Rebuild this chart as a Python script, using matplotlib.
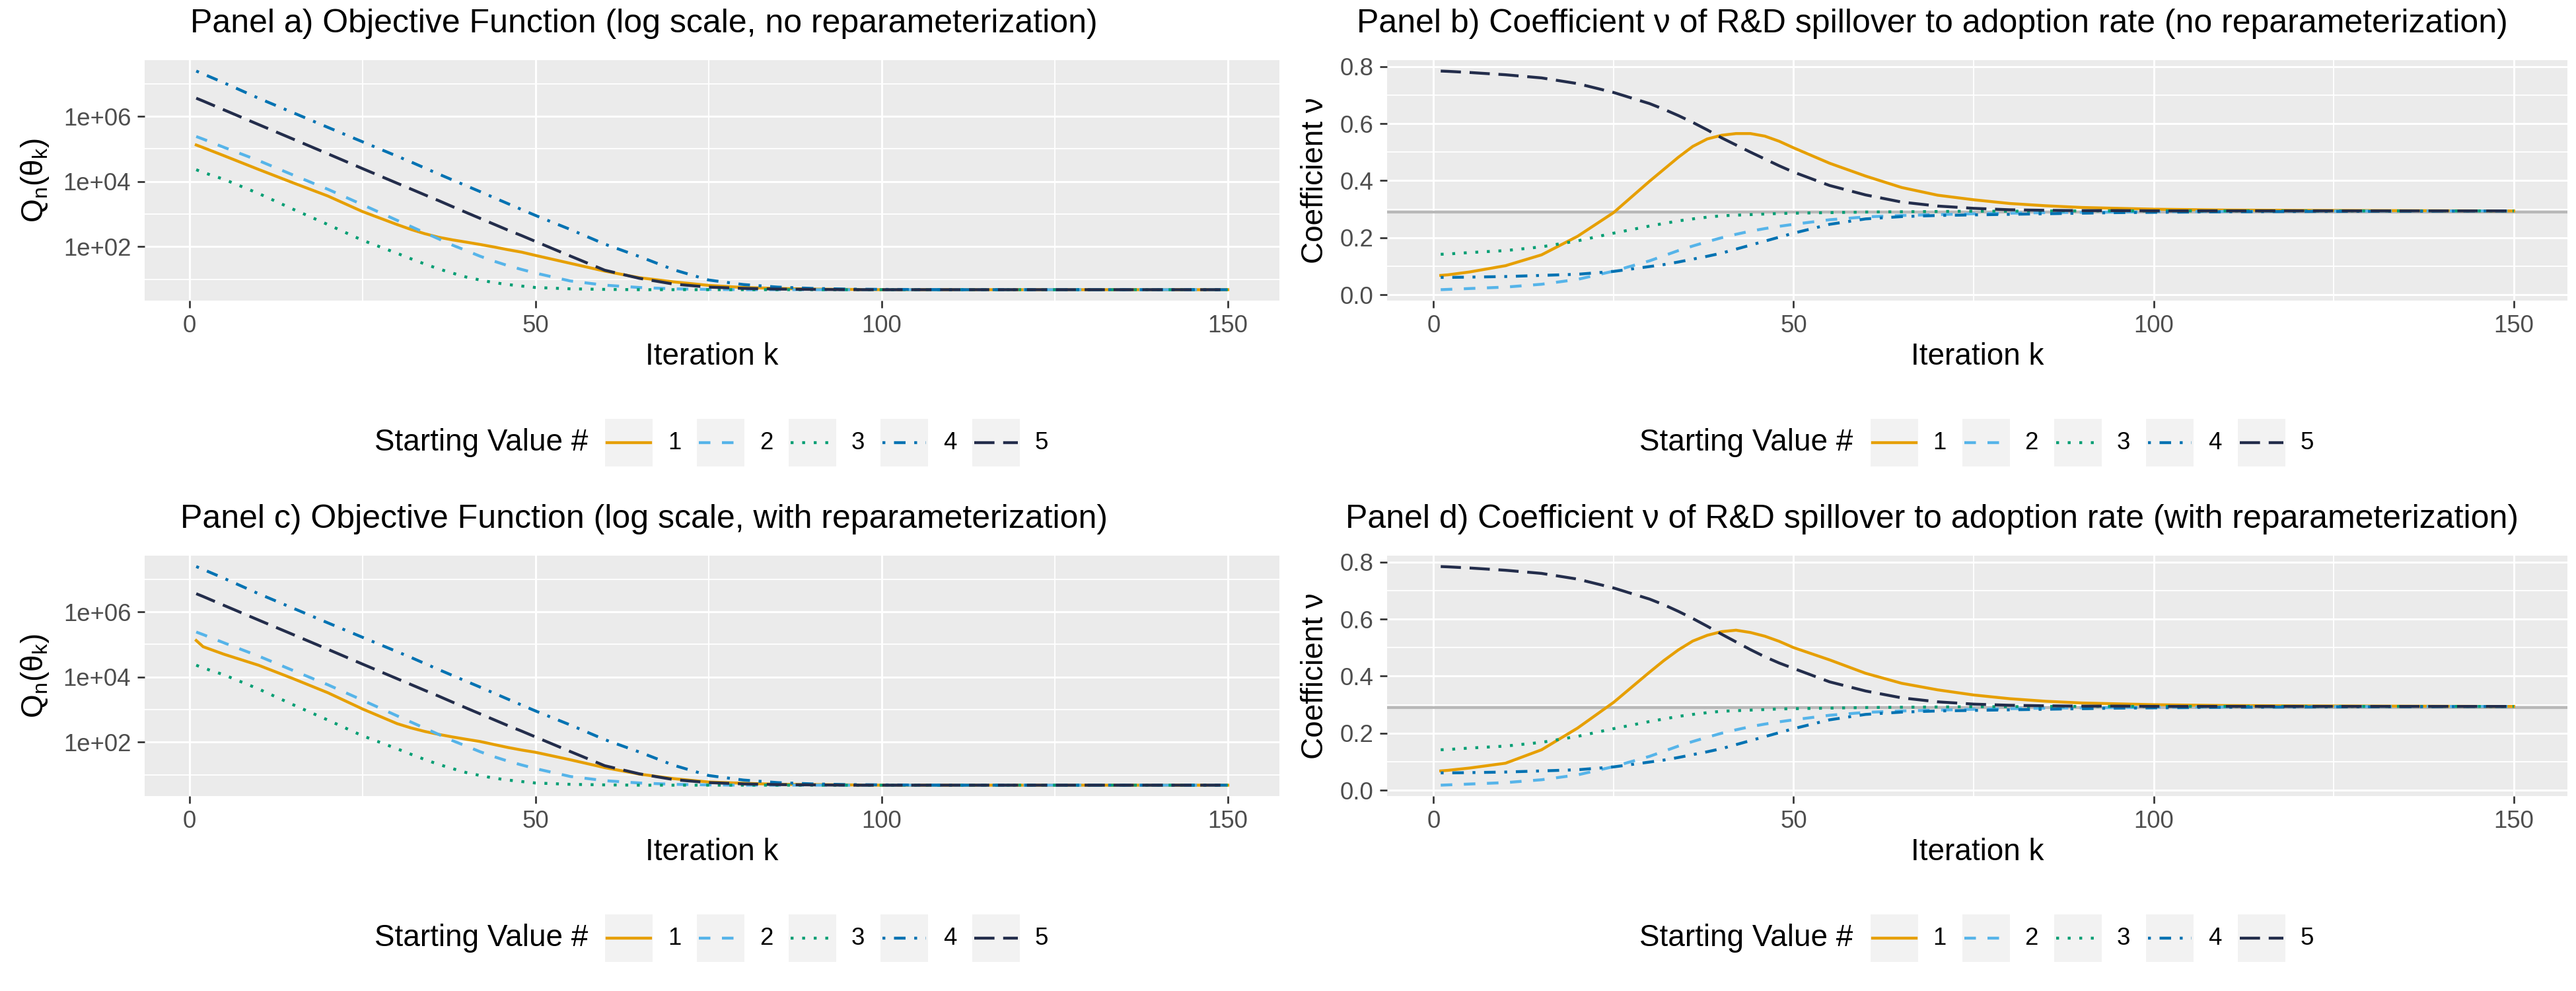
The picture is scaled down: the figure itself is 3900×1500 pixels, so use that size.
import matplotlib
matplotlib.use('Agg')
import matplotlib.pyplot as plt
from matplotlib.lines import Line2D
from matplotlib.patches import Rectangle
from matplotlib.ticker import FixedLocator, NullFormatter

plt.rcParams['font.family'] = ['Liberation Sans', 'DejaVu Sans']
plt.rcParams['mathtext.fontset'] = 'custom'
plt.rcParams['mathtext.rm'] = 'Liberation Sans'
plt.rcParams['mathtext.it'] = 'Liberation Sans:italic'

iters = [1, 2, 5, 10, 15, 20, 25, 30, 32, 34, 36, 38, 40, 42, 44, 46, 48, 50,
         55, 60, 65, 70, 75, 80, 85, 90, 95, 100, 110, 120, 135, 150]

# Panel a: objective function, no reparameterization
obj_a_1 = [1.32e5, 1.1e5, 6.2e4, 2.35e4, 9.1e3, 3.6e3, 1.2e3,
           479, 339, 251, 195, 162, 138, 117, 98, 81, 68, 54,
           31, 17.8, 11.2, 8.3, 6.5, 5.6, 5.25, 5.0, 4.9, 4.8, 4.8, 4.8, 4.8, 4.8]
obj_a_2 = [2.4e5, 2.0e5, 1.12e5, 4.4e4, 1.58e4, 5.8e3, 1.95e3,
           645, 417, 269, 174, 112, 76, 51, 36, 26.3, 20, 15.5,
           8.9, 6.6, 5.6, 5.1, 4.9, 4.8, 4.8, 4.8, 4.8, 4.8, 4.8, 4.8, 4.8, 4.8]
obj_a_3 = [2.3e4, 1.9e4, 1.17e4, 4.3e3, 1.41e3, 480, 158,
           63, 42.7, 29.5, 20.9, 15.5, 11.7, 9.5, 7.9, 6.9, 6.2, 5.6,
           5.1, 4.9, 4.8, 4.8, 4.8, 4.8, 4.8, 4.8, 4.8, 4.8, 4.8, 4.8, 4.8, 4.8]
obj_a_4 = [2.45e7, 2.0e7, 1.07e7, 3.6e6, 1.29e6, 4.6e5, 1.66e5,
           6.0e4, 4.0e4, 2.6e4, 1.7e4, 1.12e4, 7.4e3, 4.9e3, 3.2e3, 2.1e3, 1.38e3, 910,
           340, 120, 50, 19.5, 9.5, 6.9, 5.75, 5.25, 5.0, 4.9, 4.8, 4.8, 4.8, 4.8]
obj_a_5 = [3.6e6, 2.95e6, 1.58e6, 5.6e5, 2.0e5, 7.1e4, 2.5e4,
           8.9e3, 5.9e3, 3.9e3, 2.6e3, 1.7e3, 1.12e3, 741, 490, 324, 219, 145,
           52, 19, 10.7, 7.1, 5.75, 5.25, 5.0, 4.9, 4.8, 4.8, 4.8, 4.8, 4.8, 4.8]

# Panel c: objective function, with reparameterization (series 2-5 as in panel a)
obj_c_1 = [1.32e5, 8.5e4, 5.0e4, 2.3e4, 8.9e3, 3.3e3, 1.05e3,
           372, 275, 214, 174, 145, 123, 105, 85, 69, 57.5, 49,
           29, 16.6, 10.5, 7.6, 6.0, 5.5, 5.1, 5.0, 4.9, 4.8, 4.8, 4.8, 4.8, 4.8]
obj_c_2 = obj_a_2
obj_c_3 = obj_a_3
obj_c_4 = obj_a_4
obj_c_5 = obj_a_5

# Panel b: coefficient nu, no reparameterization
nu_b_1 = [0.068, 0.070, 0.080, 0.102, 0.140, 0.205, 0.288,
          0.398, 0.440, 0.482, 0.520, 0.546, 0.559, 0.565, 0.565, 0.556, 0.538, 0.515,
          0.461, 0.416, 0.376, 0.349, 0.333, 0.320, 0.312, 0.306, 0.303, 0.300, 0.297,
          0.296, 0.295, 0.294]
nu_b_2 = [0.018, 0.019, 0.022, 0.027, 0.037, 0.054, 0.083,
          0.119, 0.137, 0.155, 0.171, 0.186, 0.200, 0.212, 0.223, 0.232, 0.240, 0.247,
          0.263, 0.273, 0.278, 0.281, 0.284, 0.286, 0.288, 0.289, 0.290, 0.291, 0.292,
          0.293, 0.294, 0.294]
nu_b_3 = [0.142, 0.143, 0.148, 0.155, 0.168, 0.189, 0.216,
          0.241, 0.250, 0.259, 0.266, 0.272, 0.277, 0.279, 0.281, 0.283, 0.285, 0.286,
          0.288, 0.290, 0.291, 0.292, 0.293, 0.293, 0.294, 0.294, 0.294, 0.294, 0.294,
          0.294, 0.294, 0.294]
nu_b_4 = [0.061, 0.061, 0.062, 0.064, 0.068, 0.072, 0.082,
          0.099, 0.106, 0.115, 0.125, 0.135, 0.146, 0.160, 0.174, 0.188, 0.202, 0.216,
          0.247, 0.266, 0.274, 0.278, 0.280, 0.282, 0.284, 0.286, 0.288, 0.289, 0.291,
          0.292, 0.293, 0.294]
nu_b_5 = [0.784, 0.783, 0.779, 0.771, 0.760, 0.740, 0.709,
          0.670, 0.650, 0.628, 0.604, 0.578, 0.550, 0.525, 0.500, 0.476, 0.452, 0.430,
          0.383, 0.350, 0.325, 0.311, 0.303, 0.298, 0.296, 0.295, 0.295, 0.294, 0.294,
          0.294, 0.294, 0.294]

# Panel d: coefficient nu, with reparameterization (series 2-4 as in panel b)
nu_d_1 = [0.068, 0.070, 0.078, 0.095, 0.142, 0.218, 0.308,
          0.414, 0.455, 0.492, 0.523, 0.543, 0.556, 0.561, 0.553, 0.540, 0.522, 0.500,
          0.457, 0.410, 0.375, 0.352, 0.334, 0.321, 0.312, 0.306, 0.303, 0.300, 0.297,
          0.296, 0.295, 0.294]
nu_d_2 = nu_b_2
nu_d_3 = nu_b_3
nu_d_4 = nu_b_4
nu_d_5 = [0.784, 0.783, 0.779, 0.771, 0.760, 0.740, 0.709,
          0.670, 0.650, 0.627, 0.602, 0.575, 0.547, 0.520, 0.493, 0.468, 0.446, 0.427,
          0.380, 0.348, 0.324, 0.310, 0.302, 0.298, 0.296, 0.295, 0.295, 0.294, 0.294,
          0.294, 0.294, 0.294]

true_nu = 0.29

labels = ['1', '2', '3', '4', '5']
colors = ['#E69F00', '#56B4E9', '#009E73', '#0072B2', '#232D4B']
linestyles = ['-', (0, (4, 4)), (0, (1, 3)), (0, (1, 3, 4, 3)), (0, (7, 3))]
LW = 1.05

W, H = 3900, 1500


def fx(px):
    return px / W


def fy(py):
    return 1 - py / H


def style_axes(ax):
    ax.set_facecolor('#EBEBEB')
    for s in ax.spines.values():
        s.set_visible(False)
    ax.set_axisbelow(True)
    ax.grid(which='major', color='white', lw=0.7)
    ax.grid(which='minor', color='white', lw=0.45)
    ax.tick_params(which='major', length=2.75, width=0.65, color='#333333',
                   labelsize=8.8, labelcolor='#4D4D4D', pad=2.2)
    ax.tick_params(which='minor', length=0)
    ax.xaxis.set_major_locator(FixedLocator([0, 50, 100, 150]))
    ax.xaxis.set_minor_locator(FixedLocator([25, 75, 125]))
    ax.xaxis.set_minor_formatter(NullFormatter())


def draw_legend(fig, cx, cy):
    key = 72
    fig.text(fx(cx - 188), fy(cy), 'Starting Value #', ha='right', va='center', size=11)
    for i in range(5):
        left = cx - 162 + i * 139
        fig.add_artist(Rectangle((fx(left), fy(cy + key / 2)), key / W, key / H,
                                 transform=fig.transFigure, facecolor='#F2F2F2',
                                 edgecolor='none'))
        fig.add_artist(Line2D([fx(left + 3), fx(left + key - 3)], [fy(cy), fy(cy)],
                              transform=fig.transFigure, color=colors[i],
                              linestyle=linestyles[i], lw=LW, dash_capstyle='butt'))
        fig.text(fx(left + key + 23), fy(cy), labels[i], ha='left', va='center', size=8.8)


fig = plt.figure(figsize=(13, 5), dpi=300)

panels = [
    dict(box=(219, 91, 1937, 455), cell=975, ty=36,
         title='Panel a) Objective Function (log scale, no reparameterization)',
         series=[obj_a_1, obj_a_2, obj_a_3, obj_a_4, obj_a_5], log=True),
    dict(box=(2100, 91, 3887, 455), cell=2925, ty=36,
         title='Panel b) Coefficient ν of R&D spillover to adoption rate (no reparameterization)',
         series=[nu_b_1, nu_b_2, nu_b_3, nu_b_4, nu_b_5], log=False),
    dict(box=(219, 841, 1937, 1205), cell=975, ty=786,
         title='Panel c) Objective Function (log scale, with reparameterization)',
         series=[obj_c_1, obj_c_2, obj_c_3, obj_c_4, obj_c_5], log=True),
    dict(box=(2100, 841, 3887, 1205), cell=2925, ty=786,
         title='Panel d) Coefficient ν of R&D spillover to adoption rate (with reparameterization)',
         series=[nu_d_1, nu_d_2, nu_d_3, nu_d_4, nu_d_5], log=False),
]

for p in panels:
    l, t, r, b = p['box']
    ax = fig.add_axes([fx(l), fy(b), (r - l) / W, (b - t) / H])
    style_axes(ax)
    if p['log']:
        ax.set_yscale('log')
    else:
        ax.axhline(true_nu, color='#B8B8B8', lw=1.0, zorder=1)
    for i, ys in enumerate(p['series']):
        ax.plot(iters, ys, color=colors[i], linestyle=linestyles[i], lw=LW,
                dash_capstyle='butt', zorder=2 + i)
    ax.margins(x=0.05, y=0.05)
    if p['log']:
        ax.yaxis.set_major_locator(FixedLocator([1e2, 1e4, 1e6]))
        ax.set_yticklabels(['1e+02', '1e+04', '1e+06'])
        ax.yaxis.set_minor_locator(FixedLocator([1e1, 1e3, 1e5, 1e7]))
        ax.yaxis.set_minor_formatter(NullFormatter())
        ax.set_ylabel(r'$\mathrm{Q_n(\theta_k)}$', size=11, va='center')
        ax.yaxis.set_label_coords((53 - l) / (r - l), 0.5)
    else:
        ax.yaxis.set_major_locator(FixedLocator([0.0, 0.2, 0.4, 0.6, 0.8]))
        ax.set_yticklabels(['0.0', '0.2', '0.4', '0.6', '0.8'])
        ax.yaxis.set_minor_locator(FixedLocator([0.1, 0.3, 0.5, 0.7]))
        ax.yaxis.set_minor_formatter(NullFormatter())
        ax.set_ylabel('Coefficient ν', size=11, va='center')
        ax.yaxis.set_label_coords((1991 - l) / (r - l), 0.5)
    ax.set_xlabel('Iteration k', size=11, va='center')
    ax.xaxis.set_label_coords(0.5, -85 / (b - t))
    fig.text(fx(p['cell']), fy(p['ty']), p['title'], ha='center', va='center', size=12)
    draw_legend(fig, (l + r) / 2, b + 215)

fig.savefig('out.png', dpi=300)
